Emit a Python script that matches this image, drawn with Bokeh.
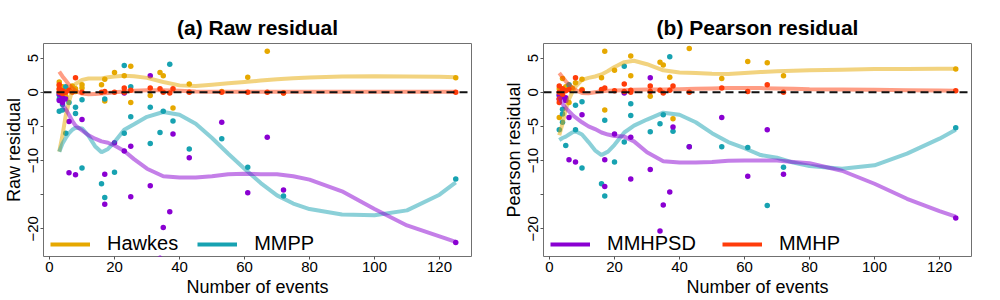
from bokeh.plotting import figure
from bokeh.layouts import row
from bokeh.models import Range1d, FixedTicker, Span, Legend, LegendItem
from bokeh.embed import file_html
from bokeh.resources import INLINE

# ---------------- data: raw residuals ----------------
hawkes_raw_x = [3, 3, 3, 4, 4, 5, 5, 6, 7, 8, 8, 10, 10, 16, 17, 17, 20, 23, 25, 25, 31, 34, 35, 38, 43, 53, 61, 67, 72, 125]
hawkes_raw_y = [1.5, 1.0, 0.4, 0.8, 0.0, 0.6, -0.6, 0.3, 0.9, 0.5, 0.1, 1.1, 0.6, 1.1, 1.9, -1.3, 2.9, 2.4, 3.8, -1.5, -0.5, 2.9, 2.4, -2.3, 1.2, 0.1, 2.2, 6.0, -0.1, 2.1]
mmpp_raw_x = [3, 3, 3, 4, 4, 5, 5, 6, 8, 8, 10, 10, 16, 17, 17, 20, 23, 23, 25, 25, 31, 31, 34, 35, 37, 38, 43, 53, 61, 72, 125]
mmpp_raw_y = [-2.8, -1.0, -0.4, -2.6, -1.8, -6.0, 0.8, -1.5, -3.1, -2.2, -1.1, -11.1, -13.4, -15.4, -1.0, -11.7, -6.0, 3.9, -3.6, 0.8, -7.5, -2.2, -5.9, -2.8, 4.1, -4.2, -8.3, -6.8, -11.0, -15.2, -12.7]
mmhpsd_raw_x = [3, 3, 4, 4, 5, 6, 6, 8, 10, 17, 17, 20, 23, 23, 25, 25, 31, 31, 34, 35, 37, 38, 43, 53, 61, 67, 72, 125]
mmhpsd_raw_y = [-0.3, -1.2, -0.8, -1.5, -1.0, -11.8, -4.3, -12.1, -4.0, -12.0, -16.4, -7.4, -8.6, -0.1, -15.3, -7.9, 2.4, -13.7, -24.3, -19.8, -17.5, -6.1, -9.6, -4.4, -14.7, -6.6, -14.3, -22.0]
mmhp_raw_x = [3, 3, 3, 4, 4, 5, 6, 7, 8, 10, 16, 17, 20, 23, 23, 25, 31, 34, 35, 37, 38, 43, 53, 61, 67, 72, 125]
mmhp_raw_y = [1.1, 0.5, 0.0, 0.2, -0.2, 0.0, 0.3, 0.0, 2.1, 0.0, 0.0, 0.1, 0.0, 0.6, 0.0, 0.3, 0.6, 0.5, 0.0, -0.1, 0.5, 0.0, 0.0, 0.0, 0.0, -0.1, 0.0]

# ---------------- data: Pearson residuals ----------------
hawkes_pr_x = [3, 3, 4, 4, 5, 6, 6, 7, 8, 10, 10, 16, 17, 17, 20, 25, 25, 31, 34, 35, 37, 38, 43, 53, 61, 67, 72, 125]
hawkes_pr_y = [-3.7, 0.5, 2.0, 0.3, 0.8, -1.5, 1.0, 0.6, 1.4, 1.9, 0.4, 2.1, 6.0, -2.6, 3.2, 5.3, 2.4, -0.6, 4.4, 4.0, 2.2, -3.9, 6.4, 2.0, 4.5, 4.3, 2.4, 3.4]
mmpp_pr_x = [3, 3, 4, 4, 4, 5, 5, 6, 8, 8, 10, 10, 16, 17, 17, 20, 23, 23, 25, 25, 31, 34, 35, 37, 38, 43, 53, 61, 67, 72, 125]
mmpp_pr_y = [-5.5, -0.5, -3.2, -2.5, -4.4, -7.8, -1.0, 1.1, -5.5, -1.9, -1.4, -11.1, -13.4, -4.1, -15.2, -10.2, 3.8, -7.3, -1.7, -3.4, -5.8, -4.6, -3.3, 5.2, -5.7, -8.0, -8.0, -8.1, -16.6, -11.0, -5.2]
mmhpsd_pr_x = [3, 3, 4, 5, 5, 6, 6, 8, 10, 17, 17, 20, 23, 25, 25, 31, 31, 34, 35, 37, 38, 43, 53, 61, 67, 72, 125]
mmhpsd_pr_y = [-0.4, -1.0, -0.7, -0.8, -1.2, -9.9, -3.7, -10.2, -3.3, -9.9, -13.8, -6.1, -0.1, -6.6, -12.7, 2.1, -11.3, -20.3, -16.5, -14.6, -5.1, -8.0, -3.7, -12.3, -5.5, -12.0, -18.4]
mmhp_pr_x = [3, 3, 3, 3, 4, 4, 5, 6, 8, 10, 16, 17, 20, 23, 23, 25, 25, 31, 31, 34, 35, 37, 38, 43, 53, 61, 67, 72, 125]
mmhp_pr_y = [0.9, -1.5, -1.0, 0.0, 0.5, -0.3, 0.2, 0.4, 2.1, 0.3, 0.4, 0.6, 0.2, 1.2, 0.1, 0.3, 0.0, 0.9, 0.1, 0.3, -0.1, 0.3, 0.9, 0.0, 0.6, 0.1, 1.1, 0.0, 0.2]

# ---------------- smoothed trend curves ----------------
smooth_x = [3, 4, 5, 6, 7, 8, 10, 12, 14, 16, 18, 20, 23, 26, 30, 35, 40, 45, 50, 55, 60, 65, 70, 75, 80, 90, 100, 110, 120, 125]
hawkes_raw_fit = [-8.7, -6.3, -3.4, -1.4, 0.3, 1.2, 1.8, 2.0, 2.0, 2.0, 2.2, 2.3, 2.4, 2.35, 2.1, 1.5, 1.0, 0.9, 1.1, 1.3, 1.5, 1.7, 1.9, 2.05, 2.15, 2.3, 2.35, 2.3, 2.25, 2.2]
mmpp_raw_fit = [-8.7, -7.5, -6.7, -6.0, -5.5, -5.2, -5.3, -6.4, -7.9, -8.8, -8.3, -7.3, -5.5, -4.7, -3.6, -2.9, -3.3, -4.6, -6.7, -9.0, -11.2, -13.3, -15.1, -16.3, -17.1, -17.9, -18.0, -17.3, -15.0, -13.2]
mmhpsd_raw_fit = [-0.7, -1.8, -2.5, -3.3, -4.2, -4.9, -5.6, -6.3, -6.8, -7.2, -7.4, -7.8, -8.6, -9.8, -11.2, -12.3, -12.5, -12.5, -12.3, -12.0, -11.95, -12.0, -12.0, -12.3, -12.8, -14.5, -17.1, -19.5, -21.1, -21.9]
mmhp_raw_fit = [3.0, 2.3, 1.7, 1.1, 0.6, 0.2, -0.2, -0.3, -0.25, -0.2, -0.1, 0.0, 0.1, 0.2, 0.3, 0.3, 0.2, 0.1, 0.05, 0.05, 0.05, 0.05, 0.05, 0.05, 0.05, 0.05, 0.05, 0.05, 0.05, 0.05]
hawkes_pr_fit = [-6.3, -4.6, -2.5, -1.0, 0.0, 0.8, 1.8, 2.1, 2.3, 2.6, 3.1, 3.7, 4.4, 4.6, 4.1, 3.2, 2.9, 2.8, 2.7, 2.65, 2.8, 2.95, 3.05, 3.15, 3.2, 3.3, 3.4, 3.4, 3.42, 3.42]
mmpp_pr_fit = [-7.0, -6.7, -6.5, -6.2, -5.9, -5.7, -6.2, -7.3, -8.5, -9.2, -8.7, -7.7, -5.9, -4.9, -4.0, -3.0, -3.3, -4.4, -6.0, -7.3, -8.2, -9.2, -9.6, -10.3, -10.8, -11.2, -10.7, -9.0, -6.8, -5.5]
mmhpsd_pr_fit = [-0.7, -1.7, -2.3, -2.8, -3.3, -3.7, -4.4, -5.0, -5.4, -5.9, -6.2, -6.4, -6.5, -7.2, -8.8, -10.1, -10.3, -10.3, -10.2, -10.05, -10.0, -10.0, -10.0, -10.2, -10.4, -11.5, -13.4, -15.6, -17.4, -18.2]
mmhp_pr_fit = [2.8, 2.2, 1.6, 1.1, 0.7, 0.3, -0.1, -0.15, 0.0, 0.15, 0.2, 0.25, 0.3, 0.35, 0.4, 0.4, 0.45, 0.5, 0.55, 0.6, 0.6, 0.6, 0.55, 0.5, 0.45, 0.4, 0.35, 0.3, 0.25, 0.2]

x_ticks = [0, 20, 40, 60, 80, 100, 120]
y_ticks = [-20, -15, -10, -5, 0, 5]

FONT = "Liberation Sans"
GOLD = "#E6A800"
TEAL = "#17A2B1"
PURPLE = "#8A00D2"
RED = "#FF3C0A"


def panel(title, ylabel, pts, fits, leg, spacing):
    p = figure(width=500, height=300, output_backend="svg", toolbar_location=None,
               x_range=Range1d(-1.85, 129.85), y_range=Range1d(-24.05, 7.13),
               min_border_left=43, min_border_right=29, min_border_top=43, min_border_bottom=44)
    p.title.text = title
    p.title.align = "center"
    p.title.text_font = FONT
    p.title.text_font_size = "21px"
    p.title.text_font_style = "bold"
    p.title.text_color = "black"
    p.title.standoff = 9
    p.grid.visible = False
    p.outline_line_color = "#707070"
    p.outline_line_width = 1

    for ax in (p.xaxis[0], p.yaxis[0]):
        ax.axis_line_color = None
        ax.major_tick_line_color = "#555555"
        ax.major_tick_out = 3
        ax.major_tick_in = 0
        ax.minor_tick_line_color = None
        ax.major_label_text_font = FONT
        ax.major_label_text_font_size = "15px"
        ax.major_label_text_color = "black"
        ax.axis_label_text_font = FONT
        ax.axis_label_text_font_size = "18px"
        ax.axis_label_text_font_style = "normal"
        ax.axis_label_text_color = "black"
        ax.major_label_standoff = 2
        ax.axis_label_standoff = 2
    p.xaxis.ticker = FixedTicker(ticks=x_ticks)
    p.yaxis.ticker = FixedTicker(ticks=y_ticks)
    p.yaxis.major_label_overrides = {-15: ""}
    p.yaxis.major_label_orientation = "vertical"
    p.xaxis.axis_label = "Number of events"
    p.yaxis.axis_label = ylabel

    for xs, ys, c in pts:
        p.scatter(xs, ys, size=5.5, color=c, line_width=0)
    for ys, c in fits:
        p.line(smooth_x, ys, line_color=c, line_alpha=0.5, line_width=4)
    p.add_layout(Span(location=0, dimension="width", line_color="#111111",
                      line_dash="8 5", line_width=2))

    items = []
    for name, c in leg:
        r = p.line(x=[float("nan")], y=[float("nan")], line_color=c, line_width=4)
        items.append(LegendItem(label=name, renderers=[r]))
    legend = Legend(items=items, orientation="horizontal", location=(7, 1),
                    glyph_width=40, glyph_height=20, label_height=20,
                    label_standoff=17, spacing=spacing, padding=0, margin=0,
                    label_text_font=FONT, label_text_font_size="20px",
                    label_text_color="black",
                    background_fill_alpha=0, border_line_alpha=0)
    p.add_layout(legend)
    return p


p1 = panel("(a) Raw residual", "Raw residual",
           [(hawkes_raw_x, hawkes_raw_y, GOLD), (mmpp_raw_x, mmpp_raw_y, TEAL),
            (mmhpsd_raw_x, mmhpsd_raw_y, PURPLE), (mmhp_raw_x, mmhp_raw_y, RED)],
           [(hawkes_raw_fit, GOLD), (mmpp_raw_fit, TEAL), (mmhpsd_raw_fit, PURPLE), (mmhp_raw_fit, RED)],
           [("Hawkes", GOLD), ("MMPP", TEAL)], 19)
p2 = panel("(b) Pearson residual", "Pearson residual",
           [(hawkes_pr_x, hawkes_pr_y, GOLD), (mmpp_pr_x, mmpp_pr_y, TEAL),
            (mmhpsd_pr_x, mmhpsd_pr_y, PURPLE), (mmhp_pr_x, mmhp_pr_y, RED)],
           [(hawkes_pr_fit, GOLD), (mmpp_pr_fit, TEAL), (mmhpsd_pr_fit, PURPLE), (mmhp_pr_fit, RED)],
           [("MMHPSD", PURPLE), ("MMHP", RED)], 26)

layout = row(p1, p2)
open("out.html", "w").write(file_html(layout, INLINE))
